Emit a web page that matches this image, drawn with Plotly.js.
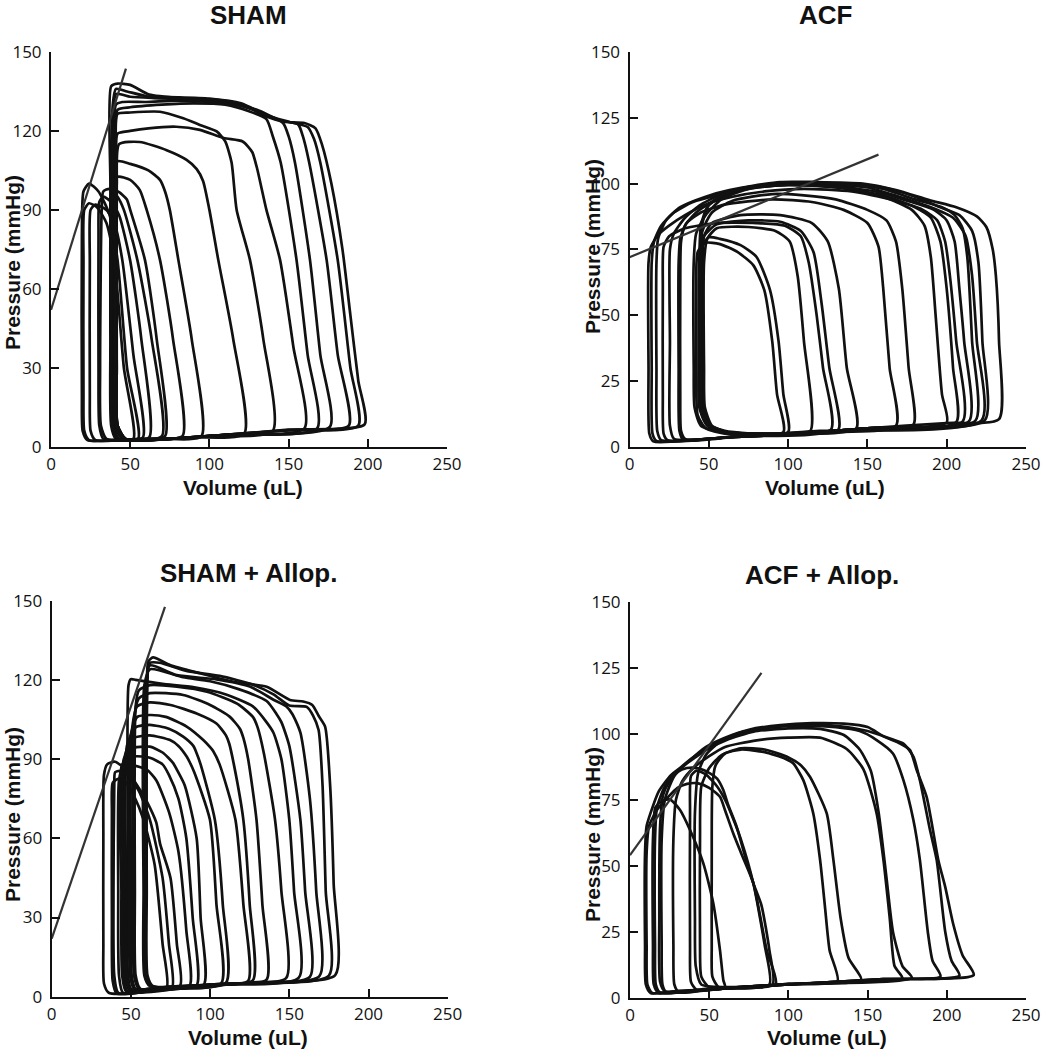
<!DOCTYPE html>
<html><head><meta charset="utf-8">
<script src="https://cdn.plot.ly/plotly-3.0.1.min.js"></script>
<style>html,body{margin:0;padding:0;background:#fff}#chart{width:1041px;height:1050px}</style>
</head><body><div id="chart"></div>
<script>
// ---------- data ----------
const panelTitles = ["SHAM", "ACF", "SHAM + Allop.", "ACF + Allop."];
const xTitle = "Volume (uL)";
const yTitle = "Pressure (mmHg)";
const volumeTicks = [0, 50, 100, 150, 200, 250];
const pressureTicksSham = [0, 30, 60, 90, 120, 150];
const pressureTicksAcf = [0, 25, 50, 75, 100, 125, 150];

// ESPVR lines: [volume], [pressure]
const shamEspvrV = [0, 47.3],  shamEspvrP = [52, 143.7];
const acfEspvrV = [0, 157],    acfEspvrP = [72, 111];
const shamAllopEspvrV = [0, 71.5], shamAllopEspvrP = [22, 147.7];
const acfAllopEspvrV = [0, 83],    acfAllopEspvrP = [54, 123];

// PV loops: each loop is a list of [volume, pressure] points
const shamLoops = [
 [[198,8.5],[194,25],[189,50],[184,75],[177,100],[171,115],[167,121],[160,123],[147,123.5],[136,125.5],[121,130],[105,131.8],[84,132.4],[62,133.8],[50,137.5],[42,138],[38,137],[37.5,100],[37.5,40],[38,8],[41,3],[55,2.5],[100,4],[150,6.5],[198,8.5]],
 [[194,8],[189,30],[181,71],[170,108],[166,117],[162,121.5],[150,123.5],[136,126],[120,130.5],[100,132.3],[80,132.8],[62,133],[48,135],[41,136],[39,130],[38.5,40],[39,8],[43,3],[60,2.5],[110,4.5],[150,6.3],[194,8]],
 [[188,8],[181,35],[174,71],[163,108],[159,118],[156,122.5],[145,124],[130,128],[110,131],[90,132],[65,132.5],[50,133],[41,134],[39.5,120],[39.5,40],[40,8],[45,3],[60,2.5],[110,4.5],[150,6.2],[188,8]],
 [[176,7.5],[170,35],[163.5,71],[154,108],[150,118],[146.5,123],[136,126],[120,129.5],[100,131],[80,131.5],[60,131],[45,131],[41,130],[40.5,100],[40.5,30],[41,8],[46,3],[60,2.5],[110,4.5],[176,7.5]],
 [[168,7],[162,35],[155,71],[145,108],[140,118],[136,124.5],[125,127.5],[110,130],[90,130.5],[70,130],[50,129],[42,128],[41.5,100],[41.5,30],[42,8],[47,3],[60,2.5],[110,4.5],[168,7]],
 [[160,7],[153,38],[144.6,71],[136,90],[130,106],[127,112],[121,116],[109,117.3],[94,120.4],[79,121.6],[61.5,121],[50,120],[42,119],[41,110],[41,30],[42,8],[47,3],[60,2.5],[110,4.5],[160,7]],
 [[140,6],[134,41],[125.6,71],[117.2,90],[114,108],[110,116],[104.6,119.8],[94,122.3],[83.5,124.8],[68.8,127.3],[50,127],[42,126.5],[41,110],[41,30],[42,8],[47,3],[60,2.5],[100,4],[140,6]],
 [[122,5],[115,41],[105.6,71],[100,90],[96,101],[92,105.5],[85.6,109],[73,112.7],[56,115.8],[43,115],[41.5,100],[41.5,30],[42,8],[47,3],[60,2.5],[90,3.5],[122,5]],
 [[95,4],[88.8,41],[80.4,71],[75,90],[72,97],[68.8,101.4],[61.5,105],[50,107.5],[42,108.5],[41,100],[41,30],[42,8],[47,3],[70,3],[95,4]],
 [[83,4],[77,41],[68.8,71],[60.4,90],[56,97.6],[50,101.4],[42,102.5],[40.5,90],[40.5,30],[41,8],[46,3],[60,3],[83,4]],
 [[72,4],[66.7,41],[59.3,71],[50,90],[47.8,94],[42,97],[39,96],[38,80],[38,30],[38.5,8],[42,3],[55,3],[72,4]],
 [[70,4],[63.5,41],[54.5,71],[46,90],[42,95],[37,98],[33,97],[32,90],[31,30],[31.5,8],[35,3],[50,2.5],[70,4]],
 [[62,3.5],[57,41],[49.9,71],[43,88],[38,93],[33,95],[30.5,93],[30,80],[30,30],[30.5,8],[33,3],[45,2.5],[62,3.5]],
 [[58,3.5],[52,35],[45,71],[40,85],[35,90],[28,92],[25,90],[24.5,70],[24.5,20],[25,6],[28,2.5],[45,2.5],[58,3.5]],
 [[55,3],[48,30],[42,71],[37,88],[30,97],[24,100],[20.5,97],[19.5,80],[19.5,20],[20,6],[23,2.5],[40,2.5],[55,3]],
 [[52,3],[46,30],[40,71],[35,85],[29,91],[24,92.5],[21,90],[20.5,70],[20.5,20],[21,6],[24,2.5],[40,2.5],[52,3]]
];

const acfLoops = [
 [[233,10.5],[233,40],[231,65],[229,75],[225,83.5],[219,87.5],[206,91],[189,93.7],[168,97.5],[147,100],[116,100.6],[95,100.6],[74,98.7],[57,95],[49,91],[45,84],[44,70],[43.5,30],[44,15],[48,9],[60,6],[95,4.5],[150,7],[200,9],[233,10.5]],
 [[224,10],[222.5,40],[220,70],[216,82],[208,88],[196,91],[180,95],[160,98.5],[135,100],[105,100],[80,99],[60,96.5],[45,92],[35,87],[28,81],[25.5,75],[25.5,40],[25.5,8],[28,3],[40,2.5],[60,3.5],[95,4.5],[150,7],[224,10]],
 [[222,10],[219,40],[216,65],[212,80],[204,87],[190,91],[170,95],[150,98.5],[120,100],[95,100],[72,98],[55,94],[42,89],[35,84],[32.5,78],[32,60],[32,20],[32.5,6],[35,3],[50,3],[70,4],[120,6],[222,10]],
 [[218,9.8],[216,40],[213,72],[210,83],[205,88],[197,91],[180,94],[160,98],[140,99.5],[110,100],[85,99.5],[63,97.5],[48,95],[32,91],[23,86],[18,79],[17,70],[17,30],[17.5,6],[20,2.5],[40,2.5],[60,3.5],[95,4.5],[150,7],[218,9.8]],
 [[214,9.6],[211,40],[208,60],[205,78],[200,86],[192,90],[175,93.5],[155,97],[130,99],[100,99.5],[75,98],[55,95.5],[40,93],[28,89],[20,84],[15.5,78],[14,70],[14,30],[14.5,5],[17,2.2],[40,2.5],[60,3.5],[95,4.5],[150,7],[214,9.6]],
 [[210,9.5],[206,40],[202,65],[199,78],[194,86],[185,90],[165,94],[140,97],[110,98],[85,97],[65,95],[50,92.5],[35,88],[25,84],[18,80.5],[13.5,76],[12,70],[12,30],[12.5,5],[15,2],[40,2.5],[60,3.5],[95,4.5],[150,7],[210,9.5]],
 [[206,9.3],[204,30],[200,60],[196,78],[190,87],[180,91],[160,95.5],[130,98.5],[100,99.5],[75,98],[58,94],[48,88],[42,81],[40.5,70],[40.5,30],[41,15],[45,8],[60,5.5],[95,4.5],[150,7],[206,9.3]],
 [[200,9.2],[197,20],[193,50],[190,72],[186,84],[178,90],[162,94.5],[140,98],[110,99.5],[80,99],[60,96],[50,92],[46,85],[45,70],[45,30],[45.5,15],[50,8],[62,5.5],[95,4.5],[150,7],[200,9.2]],
 [[179,8.4],[176,30],[172,60],[168,78],[162,86],[150,90],[130,94],[110,95.5],[90,96],[65,93.5],[52,89],[46,82],[44,70],[44,30],[44.5,15],[49,8],[62,5.5],[95,4.5],[150,7],[179,8.4]],
 [[168,8],[164,30],[160,60],[157,76],[150,85],[135,90],[115,93],[90,94],[60,92],[45,89],[36,85],[32,79],[31,70],[31,30],[31.5,6],[34,2.5],[50,3],[70,4],[110,5.5],[168,8]],
 [[143,7],[137,30],[132,60],[125,78],[115,85],[95,88],[70,88],[52,85],[47,80],[46,70],[46,30],[46.5,15],[51,8],[62,5.5],[100,5],[143,7]],
 [[131.7,6.5],[126,30],[121,55],[116,74],[108,82],[95,85.5],[75,86],[55,84.5],[47,80],[45,70],[45,30],[45.5,15],[50,8],[62,5.5],[100,5],[131.7,6.5]],
 [[127,6.5],[122,30],[118,50],[113,70],[108,80],[98,84],[80,85],[55,85],[35,83],[25,80],[21.5,76],[21,60],[21,20],[21.5,5],[24,2.5],[45,2.5],[70,4],[127,6.5]],
 [[114,6],[110,40],[106,65],[101,78],[92,82],[75,83.5],[55,83],[49,79],[47,70],[47,30],[47.5,15],[52,8],[62,5.5],[90,5],[114,6]],
 [[100,5.5],[97,20],[94,40],[88.6,59.5],[80,72.2],[70,76.6],[57,79],[50,79.6],[45.5,76],[45,60],[45,25],[46,12],[52,7],[62,5.5],[100,5.5]],
 [[97,5.5],[93,20],[90,40],[85,59.5],[78,69],[68,74],[57,77],[48,77.5],[43,74],[42,60],[42,25],[43,12],[48,7],[60,5],[97,5.5]]
];

const shamAllopLoops = [
 [[179,8.2],[178,43],[175.7,80.8],[172.6,102.3],[168.4,106.5],[164.5,110.5],[158.8,111.8],[150.4,112.4],[135.7,117.4],[114.6,119.3],[93.6,122.5],[74.7,125.6],[64,128.5],[61,127],[60,110],[59.5,40],[60,8],[63,4],[80,4],[130,5.5],[179,8.2]],
 [[175,8],[173,40],[171,80],[168.5,101],[165,106.5],[161,109.8],[150,110.3],[140,114.5],[127,118.2],[106,121.5],[85,123.4],[68,126.5],[61.5,126.3],[60.5,120],[60,40],[60.5,8],[64,4],[120,5],[175,8]],
 [[169,7.8],[167,40],[163,75],[157,100],[152,107],[148,110],[140,112.5],[125,117.5],[104,120.2],[79,121.8],[62,125.5],[59.5,118],[59,40],[59.5,8],[63,4],[120,5],[169,7.8]],
 [[163,7.5],[160,40],[157,67],[150,95],[145,104],[142,107],[135.7,112],[118,116.5],[100,119.5],[83,121],[62,124],[58.5,118],[58,40],[58.5,8],[62,4],[120,5],[163,7.5]],
 [[156,7.2],[153,40],[150,67],[145,90],[140,100],[135,104.5],[127,110],[110,114.5],[90,117.2],[70,118.5],[53,120],[50,120.3],[48.5,118],[48,60],[48,10],[50,3],[60,2.5],[100,4.5],[156,7.2]],
 [[148,7],[145,40],[141,67],[134,92],[130,102],[127,106],[117,111],[98,115.5],[79,117.4],[62,118],[55,116],[53,110],[52.5,40],[53,8],[56,3],[70,3.5],[110,5],[148,7]],
 [[135.7,6.5],[133,35],[129.3,67],[124,90],[121,98],[118.8,101.5],[112.5,106],[100,110.5],[83,114.3],[62,115],[55,113],[52,105],[51.5,40],[52,8],[55,3],[70,3.5],[110,5],[135.7,6.5]],
 [[127,6.2],[125,35],[121,67],[115,88],[112,96],[110,99],[104,103.5],[91.5,107.3],[75,110.5],[62,111.5],[54,110],[50.5,100],[50,40],[50.5,8],[53,3],[70,3.5],[100,4.5],[127,6.2]],
 [[124,6],[121,35],[116,67],[106,88],[102,93],[100,94.5],[95.7,97.2],[85.2,102.3],[72,106],[62,106.7],[54,106],[49.5,98],[49,40],[49.5,8],[52,3],[70,3.5],[100,4.5],[124,6]],
 [[110,5.2],[108,35],[103,67],[94,88],[91,93],[89.4,95],[83,98.5],[74,101.5],[62,103],[53,102],[47.5,95],[47,40],[47.5,8],[50,2.5],[70,3.2],[110,5.2]],
 [[107,5],[104,35],[99.9,67],[90,85],[87,89],[85.2,91],[80,95],[74.7,97.2],[62,99],[52,98],[46.5,92],[46,40],[46.5,8],[49,2.5],[70,3.2],[107,5]],
 [[96,4.5],[94,30],[91.5,60],[84,80],[79,86],[76.8,88.4],[70,92.5],[62,94.7],[50,94],[45.5,90],[45,40],[45.5,8],[48,2],[70,3],[96,4.5]],
 [[91.5,4.3],[89,30],[85,60],[80,75],[74,84],[70,88],[62,90.5],[52,91],[44.5,88],[44,40],[44.5,8],[47,2],[70,3],[91.5,4.3]],
 [[87,4],[85,25],[80,55],[74,70],[66,82],[60,86],[52,87.5],[45,87],[42.5,82],[42,40],[42.5,8],[45,1.5],[65,2.5],[87,4]],
 [[81,4],[79,20],[75,45],[68.4,58],[66,66],[60,74],[55.8,78.3],[47.3,85.8],[40,89],[35,88],[33,84],[32.6,60],[32.6,20],[33,5],[36,1.5],[55,1.5],[81,4]],
 [[76,3.5],[74,20],[70,45],[62,67],[55,78],[48,84],[43,85.5],[40,85],[39.5,80],[39,40],[39.5,8],[42,1.5],[60,2],[76,3.5]],
 [[72.6,3.5],[70,20],[65,50],[58,67],[52,76],[47,81],[42,82.5],[38.5,81],[38,70],[38,30],[38.5,6],[41,1.2],[60,2],[72.6,3.5]]
];

const acfAllopLoops = [
 [[217,8.6],[210,16],[204,28],[199,42],[194.7,52],[187.3,76],[181,86.2],[176.8,93.8],[170.5,96.3],[160,99],[150,102.5],[135,103.8],[115,104],[95,103.3],[75,101.5],[60,98.5],[48,95],[38,90],[28,84],[22,75],[20,60],[20,20],[20.5,5],[23,2],[40,2.5],[60,3.5],[100,5],[160,7],[217,8.6]],
 [[208,8.3],[203,14],[199,25],[193.6,52.2],[189.4,63.5],[183,82.4],[178.9,91.3],[172.6,96.3],[165,98],[150,101],[130,103],[110,103.5],[90,102.5],[70,100],[55,96.5],[42,92],[30,86],[22,80],[17,72],[15.8,60],[15.8,20],[16.3,5],[19,2],[40,2.5],[60,3.5],[100,5],[160,7],[208,8.3]],
 [[196,8.1],[191,14],[188,25],[183,52.2],[178.9,67.3],[172.6,82.4],[166,92.5],[155.7,97.6],[145,101],[130,102.5],[110,103],[90,102.5],[70,100.5],[57,97],[48,92],[43,85],[41,70],[41,30],[41.5,12],[45,5],[60,4],[100,5],[160,7],[196,8.1]],
 [[178,7.5],[172,12],[166,25],[162,45],[157,70],[152,86],[145,94],[135,99.5],[120,101.8],[100,102],[78,100.8],[61,97.6],[48,93.8],[36,88.8],[26,84.4],[18,78],[13,70],[10.5,65],[9.5,55],[9.5,20],[10,5],[13,1.8],[30,2.5],[60,3.5],[100,5],[178,7.5]],
 [[172,7.3],[167,12],[164,30],[160,52.2],[155.7,69.8],[147.3,86.6],[136.8,94.2],[120,98.5],[100,98.5],[80,97.5],[60,95],[50,91.5],[40,87],[33,82],[29,75],[27.4,60],[27.4,20],[28,5],[31,2],[50,3],[80,4.5],[130,6],[172,7.3]],
 [[146,6.8],[138,15],[133,30],[128.4,52.2],[124.2,69.8],[113.6,83.7],[108,88],[100,91],[85,94],[70,94.5],[58,92],[50,87],[45,80],[44.2,60],[44.2,20],[45,8],[50,4],[70,4],[100,5.2],[146,6.8]],
 [[131,6.3],[126,18],[123,35],[120,52.2],[115.7,69.8],[109.4,82.4],[103,88.8],[98,90.5],[85,93],[70,94],[60,92.5],[54,88],[52,80],[51.6,50],[51.6,20],[52,8],[56,4],[70,4],[100,5.2],[131,6.3]],
 [[90,5],[88,18],[83,35],[77.9,43.3],[72,55],[67.3,64.8],[62,73],[58.9,78.7],[55,83],[50.5,85],[43,86.9],[36,87],[30,85.5],[25,82],[21,77],[19,65],[18.5,30],[19,6],[22,2.5],[40,2.5],[60,3.5],[90,5]],
 [[88,5],[85,20],[78,43],[70,60],[65,68],[60,75],[55,80],[48,84.5],[42,86],[38.5,84],[37.9,70],[37.9,20],[38.5,6],[42,3],[60,3.5],[88,5]],
 [[92,5.2],[86.3,18],[77.9,43.3],[70,55],[65.2,62.2],[60,71],[56.8,76.1],[50,79.5],[43,81.2],[36,81],[30,79.5],[24,76],[17,71.1],[12,65],[10.5,55],[10.5,20],[11,5],[14,1.8],[30,2.5],[60,3.5],[92,5.2]],
 [[60,4],[58.9,6.7],[56.8,18],[52.6,35.7],[46.3,50.9],[37.9,63.5],[31.6,71.1],[25.3,75.1],[20,74.5],[16,72],[14.5,60],[14.5,20],[15,5],[18,1.8],[35,2.2],[50,3.5],[60,4]]
];

// ---------- build ----------
const W = 1041, H = 1050;
const panels = [
  {loops: shamLoops, ev: shamEspvrV, ep: shamEspvrP, yt: pressureTicksSham, ax: '', px: [51, 447], py: [52, 446.7]},
  {loops: acfLoops, ev: acfEspvrV, ep: acfEspvrP, yt: pressureTicksAcf, ax: '2', px: [629.5, 1026], py: [52, 446.7]},
  {loops: shamAllopLoops, ev: shamAllopEspvrV, ep: shamAllopEspvrP, yt: pressureTicksSham, ax: '3', px: [51.7, 447.7], py: [600.7, 996.7]},
  {loops: acfAllopLoops, ev: acfAllopEspvrV, ep: acfAllopEspvrP, yt: pressureTicksAcf, ax: '4', px: [630, 1026], py: [601.7, 997.7]}
];
const titlePos = [[248, 15], [825, 15], [248, 573], [822, 575]];
const xTitlePos = [[243, 488], [825, 488], [248, 1037], [827, 1037]];
const yTitlePos = [[12, 263], [592, 247], [12, 815], [592, 835]];

const traces = [];
const layout = {
  width: W, height: H, margin: {l: 0, r: 0, t: 0, b: 0},
  paper_bgcolor: '#fff', plot_bgcolor: 'rgba(0,0,0,0)',
  showlegend: false, annotations: [], hovermode: false
};
const tickFont = {family: 'Open Sans, sans-serif', size: 17, color: '#111'};
panels.forEach((p, i) => {
  p.loops.forEach(loop => {
    traces.push({
      type: 'scatter', mode: 'lines',
      x: loop.map(q => q[0]), y: loop.map(q => q[1]),
      xaxis: 'x' + p.ax, yaxis: 'y' + p.ax,
      line: {color: '#111', width: 2.7, shape: 'spline', smoothing: 0.6},
      hoverinfo: 'skip'
    });
  });
  traces.push({
    type: 'scatter', mode: 'lines', x: p.ev, y: p.ep,
    xaxis: 'x' + p.ax, yaxis: 'y' + p.ax,
    line: {color: '#333', width: 2.2}, hoverinfo: 'skip'
  });
  const common = {
    showline: true, linecolor: '#111', linewidth: 2, mirror: false,
    ticks: 'inside', ticklen: 8, tickwidth: 2, tickcolor: '#111',
    showgrid: false, zeroline: false, tickfont: tickFont, fixedrange: true
  };
  layout['xaxis' + p.ax] = Object.assign({}, common, {
    domain: [p.px[0] / W, p.px[1] / W], range: [0, 250],
    tickvals: volumeTicks, anchor: 'y' + p.ax, ticklabelstandoff: 1
  });
  layout['yaxis' + p.ax] = Object.assign({}, common, {
    domain: [1 - p.py[1] / H, 1 - p.py[0] / H], range: [0, 150],
    tickvals: p.yt, anchor: 'x' + p.ax, ticklabelstandoff: 4
  });
  layout.annotations.push({
    text: '<b>' + panelTitles[i] + '</b>', xref: 'paper', yref: 'paper',
    x: titlePos[i][0] / W, y: 1 - titlePos[i][1] / H, xanchor: 'center', yanchor: 'middle',
    showarrow: false, font: {family: 'Liberation Sans, Arial, sans-serif', size: 26, color: '#111'}
  });
  layout.annotations.push({
    text: '<b>' + xTitle + '</b>', xref: 'paper', yref: 'paper',
    x: xTitlePos[i][0] / W, y: 1 - xTitlePos[i][1] / H, xanchor: 'center', yanchor: 'middle',
    showarrow: false, font: {family: 'Liberation Sans, Arial, sans-serif', size: 21, color: '#111'}
  });
  layout.annotations.push({
    text: '<b>' + yTitle + '</b>', xref: 'paper', yref: 'paper', textangle: -90,
    x: yTitlePos[i][0] / W, y: 1 - yTitlePos[i][1] / H, xanchor: 'center', yanchor: 'middle',
    showarrow: false, font: {family: 'Liberation Sans, Arial, sans-serif', size: 21, color: '#111'}
  });
});
Plotly.newPlot('chart', traces, layout, {displayModeBar: false, staticPlot: true});
</script>
</body></html>
